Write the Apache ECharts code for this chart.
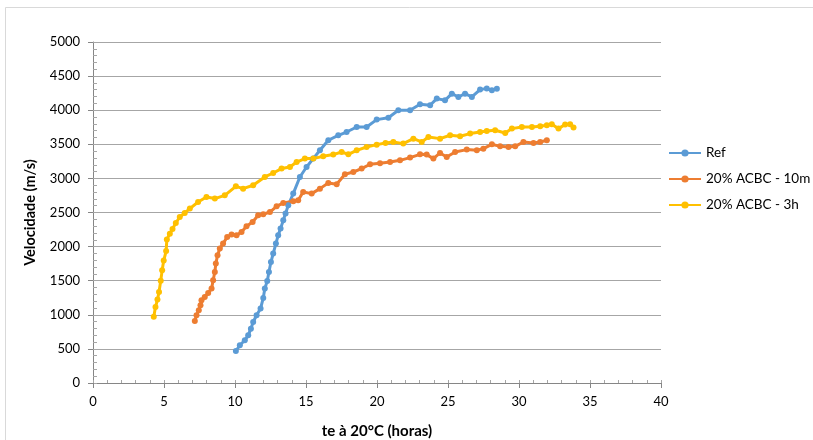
<!DOCTYPE html>
<html><head><meta charset="utf-8">
<script src="https://cdn.jsdelivr.net/npm/echarts@6/dist/echarts.min.js"></script>
<style>html,body{margin:0;padding:0;background:#fff}#c{width:813px;height:440px}</style>
</head><body><div id="c"></div>
<script>
const seriesNames = ['Ref', '20% ACBC - 10m', '20% ACBC - 3h'];
const xTicks = [0,5,10,15,20,25,30,35,40];
const yTicks = [0,500,1000,1500,2000,2500,3000,3500,4000,4500,5000];

const refT = [10.06,10.34,10.69,10.93,11.12,11.28,11.52,11.80,11.99,12.10,12.27,12.39,12.53,12.69,12.88,13.04,13.21,13.40,13.56,13.75,14.10,14.57,15.04,15.51,15.98,16.57,17.27,17.86,18.57,19.27,19.98,20.80,21.50,22.33,23.03,23.74,24.21,24.79,25.27,25.73,26.20,26.68,27.26,27.73,28.09,28.44];
const refV = [469,553,626,699,797,895,993,1091,1247,1384,1496,1628,1774,1897,2044,2166,2264,2386,2484,2606,2777,3021,3167,3290,3412,3559,3632,3680,3754,3754,3862,3890,3999,3999,4087,4072,4170,4145,4243,4194,4243,4194,4302,4320,4292,4316];

const m10T = [7.17,7.29,7.45,7.57,7.64,7.87,8.11,8.35,8.46,8.58,8.65,8.77,8.93,9.16,9.45,9.76,10.11,10.46,10.81,11.24,11.63,11.99,12.46,12.93,13.40,14.10,14.45,14.80,15.40,15.98,16.57,17.16,17.74,18.33,18.92,19.51,20.21,20.92,21.62,22.33,23.03,23.50,23.97,24.44,24.91,25.50,26.32,27.03,27.49,28.09,28.67,29.26,29.73,30.31,31.02,31.49,31.96];
const m10V = [909,993,1066,1139,1213,1261,1320,1384,1506,1628,1751,1872,1971,2044,2141,2176,2166,2214,2298,2361,2459,2474,2507,2591,2640,2664,2679,2801,2777,2850,2933,2914,3060,3094,3144,3207,3222,3241,3265,3305,3353,3349,3290,3373,3314,3387,3422,3412,3436,3500,3470,3460,3470,3534,3519,3534,3559];

const h3T = [4.28,4.40,4.54,4.65,4.77,4.87,4.98,5.15,5.20,5.41,5.60,5.83,6.11,6.46,6.82,7.40,7.99,8.58,9.28,10.06,10.57,11.28,12.10,12.69,13.28,13.87,14.34,14.92,15.51,16.21,16.92,17.51,17.98,18.57,19.27,19.98,20.60,21.15,21.85,22.56,23.15,23.62,24.44,25.15,25.85,26.56,27.26,27.73,28.32,29.03,29.50,30.20,30.91,31.49,31.96,32.31,32.78,33.25,33.60,33.84];
const h3V = [970,1114,1223,1334,1501,1652,1795,1935,2103,2190,2258,2346,2434,2493,2557,2654,2727,2704,2752,2884,2850,2899,3021,3079,3144,3167,3240,3290,3290,3324,3349,3387,3353,3412,3460,3495,3520,3534,3510,3583,3534,3607,3583,3632,3617,3657,3680,3695,3705,3665,3730,3754,3754,3764,3779,3793,3730,3789,3793,3745];

const colors = ['#5B9BD5', '#ED7D31', '#FFC000'];
const zip = (a, b) => a.map((t, i) => [t, b[i]]);
const datasets = [zip(refT, refV), zip(m10T, m10V), zip(h3T, h3V)];

const FONT = 'Lato, "Liberation Sans", sans-serif';
const chart = echarts.init(document.getElementById('c'), null, {renderer: 'canvas'});
chart.setOption({
  animation: false,
  backgroundColor: '#fff',
  color: colors,
  graphic: [{type: 'rect', shape: {x: 5.5, y: 7.5, width: 900, height: 500}, style: {fill: 'none', stroke: '#d9d9d9', lineWidth: 1}, silent: true, z: -10}],
  grid: {left: 93, right: 152, top: 42, bottom: 57, containLabel: false, outerBoundsMode: 'none'},
  legend: {
    orient: 'vertical', left: 668, top: 146, padding: 0, itemWidth: 32, itemHeight: 9, itemGap: 12,
    textStyle: {fontFamily: FONT, fontSize: 13.5, color: '#000'},
    data: seriesNames
  },
  xAxis: [{
    type: 'value', min: 0, max: 40, interval: 5,
    name: 'te à 20°C (horas)', nameLocation: 'middle', nameGap: 41,
    nameTextStyle: {fontFamily: FONT, fontSize: 15, fontWeight: 'bold', color: '#000'},
    axisLine: {show: true, lineStyle: {color: '#868686', width: 1}},
    axisTick: {show: true, length: 5, lineStyle: {color: '#868686'}},
    axisLabel: {fontFamily: FONT, fontSize: 13, color: '#000', margin: 12,
      formatter: v => xTicks.includes(v) ? String(v) : ''},
    splitLine: {show: false}
  }, {
    type: 'value', min: 0, max: 40, interval: 1, position: 'bottom',
    axisLine: {show: false}, axisLabel: {show: false}, splitLine: {show: false},
    axisTick: {show: true, inside: true, length: 3, lineStyle: {color: '#a6a6a6'}}
  }],
  yAxis: [{
    type: 'value', min: 0, max: 5000, interval: 500,
    name: 'Velocidade (m/s)', nameLocation: 'middle', nameGap: 55,
    nameTextStyle: {fontFamily: FONT, fontSize: 14.5, fontWeight: 'bold', color: '#000'},
    axisLine: {show: true, lineStyle: {color: '#868686', width: 1}},
    axisTick: {show: true, length: 5, lineStyle: {color: '#868686'}},
    axisLabel: {fontFamily: FONT, fontSize: 13, color: '#000', margin: 13,
      formatter: v => yTicks.includes(v) ? String(v) : ''},
    splitLine: {show: true, lineStyle: {color: '#a6a6a6', width: 1}}
  }, {
    type: 'value', min: 0, max: 5000, interval: 100, position: 'left',
    axisLine: {show: false}, axisLabel: {show: false}, splitLine: {show: false},
    axisTick: {show: true, inside: true, length: 4, lineStyle: {color: '#a6a6a6'}}
  }],
  series: datasets.map((d, i) => ({
    name: seriesNames[i], type: 'line', data: d,
    xAxisIndex: 0, yAxisIndex: 0,
    symbol: 'circle', symbolSize: 6, showSymbol: true,
    lineStyle: {width: 3, color: colors[i]},
    itemStyle: {color: colors[i]}
  }))
});
</script></body></html>
